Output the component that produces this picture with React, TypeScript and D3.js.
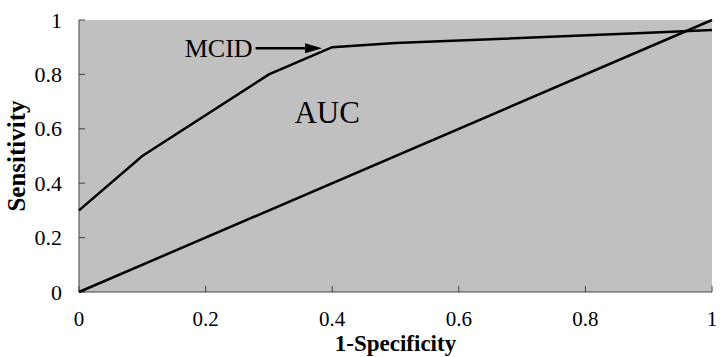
import * as d3 from "d3";

// ROC curve
const rocX = [0, 0.1, 0.3, 0.4, 0.5, 0.9, 1];
const rocY = [0.3, 0.5, 0.8, 0.9, 0.915, 0.953, 0.963];
// chance diagonal
const diagX = [0, 1];
const diagY = [0, 1];
const xTicks = [0, 0.2, 0.4, 0.6, 0.8, 1];
const yTicks = [0, 0.2, 0.4, 0.6, 0.8, 1];

export default function App() {
  const width = 720;
  const height = 357;
  const margin = { top: 20, right: 8, bottom: 65, left: 79 };

  const x = d3
    .scaleLinear()
    .domain([0, 1])
    .range([margin.left, width - margin.right]);
  const y = d3
    .scaleLinear()
    .domain([0, 1])
    .range([height - margin.bottom, margin.top]);

  const line = d3
    .line<[number, number]>()
    .x((d) => x(d[0]))
    .y((d) => y(d[1]));

  const roc = rocX.map((v, i) => [v, rocY[i]] as [number, number]);
  const diag = diagX.map((v, i) => [v, diagY[i]] as [number, number]);

  const font = "'Liberation Serif', 'Times New Roman', serif";
  const tick = 6;

  // arrow from the MCID label to the curve
  const arrowY = y(0.9) + 1;
  const arrowStart = x(0.279);
  const arrowEnd = x(0.384);
  const headLen = 17;
  const headHalf = 5;

  return (
    <svg
      width={width}
      height={height}
      style={{ position: "absolute", left: 0, top: 0 }}
      fontFamily={font}
    >
      {/* plot area */}
      <rect
        x={x(0)}
        y={y(1)}
        width={x(1) - x(0)}
        height={y(0) - y(1)}
        fill="#c0c0c0"
      />

      {/* axes */}
      <line x1={x(0)} x2={x(0)} y1={y(0)} y2={y(1)} stroke="#444" strokeWidth={1} />
      <line x1={x(0)} x2={x(1)} y1={y(0)} y2={y(0)} stroke="#444" strokeWidth={1} />
      {yTicks.map((t) => (
        <g key={"y" + t}>
          <line x1={x(0)} x2={x(0) + tick} y1={y(t)} y2={y(t)} stroke="#444" />
          <text
            x={x(0) - 17}
            y={y(t)}
            textAnchor="end"
            dominantBaseline="central"
            fontSize={22}
          >
            {t}
          </text>
        </g>
      ))}
      {xTicks.map((t) => (
        <g key={"x" + t}>
          <line x1={x(t)} x2={x(t)} y1={y(0)} y2={y(0) - tick} stroke="#444" />
          <text x={x(t)} y={y(0) + 34} textAnchor="middle" fontSize={21}>
            {t}
          </text>
        </g>
      ))}

      {/* lines */}
      <path d={line(diag) ?? ""} fill="none" stroke="#000" strokeWidth={2.5} />
      <path d={line(roc) ?? ""} fill="none" stroke="#000" strokeWidth={2.5} />

      {/* annotations */}
      <line
        x1={arrowStart}
        x2={arrowEnd - headLen + 2}
        y1={arrowY}
        y2={arrowY}
        stroke="#000"
        strokeWidth={2.5}
      />
      <path
        d={`M${arrowEnd},${arrowY} L${arrowEnd - headLen},${arrowY - headHalf} L${arrowEnd - headLen},${arrowY + headHalf} Z`}
        fill="#000"
      />
      <text x={arrowStart - 3} y={arrowY + 9} textAnchor="end" fontSize={26}>
        MCID
      </text>
      <text x={x(0.392)} y={y(0.62)} textAnchor="middle" fontSize={31}>
        AUC
      </text>

      {/* axis titles */}
      <text
        x={x(0.5)}
        y={351}
        textAnchor="middle"
        fontSize={23}
        fontWeight="bold"
      >
        1-Specificity
      </text>
      <text
        transform={`translate(25, ${y(0.5)}) rotate(-90)`}
        textAnchor="middle"
        fontSize={25}
        fontWeight="bold"
      >
        Sensitivity
      </text>
    </svg>
  );
}
